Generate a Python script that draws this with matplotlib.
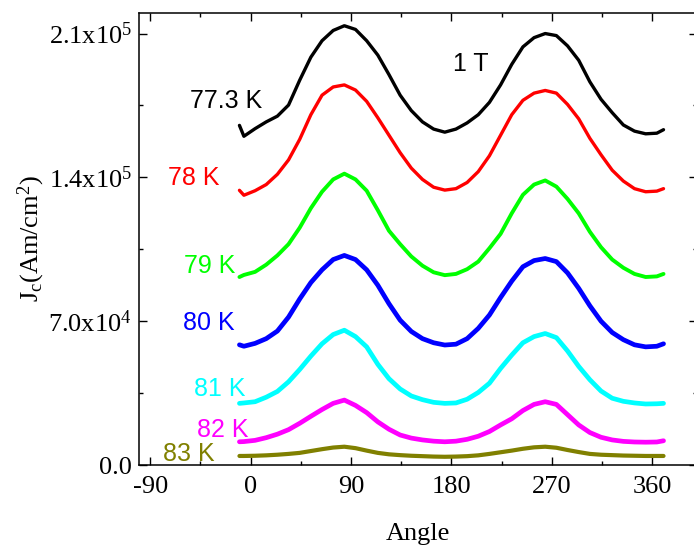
import matplotlib
matplotlib.use("Agg")
import matplotlib.pyplot as plt
from matplotlib.ticker import MultipleLocator, FuncFormatter

plt.rcParams['mathtext.fontset'] = 'custom'
plt.rcParams['mathtext.rm'] = 'Liberation Serif'
plt.rcParams['mathtext.it'] = 'Liberation Serif:italic'

angle = [-10, -6, 4, 14, 24, 34, 44, 54, 64, 74, 84, 94, 104, 114, 124, 134, 144, 154, 164, 174,
         184, 194, 204, 214, 224, 234, 244, 254, 264, 274, 284, 294, 304, 314, 324, 334, 344, 354, 364, 370]

# Jc values in units of 1e3 A/cm^2
jc_773 = [165.3, 160.0, 163.7, 167.0, 169.8, 175.2, 187.3, 198.5, 206.5, 211.5, 213.8, 212.0, 206.5, 199.5,
          190.0, 180.0, 172.5, 167.0, 163.5, 162.0, 163.5, 166.5, 170.5, 176.5, 185.0, 195.0, 203.5, 208.0,
          210.0, 209.0, 204.0, 197.0, 186.5, 178.0, 171.5, 165.5, 162.5, 161.2, 161.5, 163.2]
jc_78 = [133.7, 131.3, 133.5, 136.5, 141.5, 148.5, 158.5, 170.5, 180.0, 184.0, 185.0, 182.5, 177.0, 169.0,
         160.5, 152.0, 144.5, 139.0, 135.2, 133.8, 134.5, 137.5, 142.8, 150.5, 160.5, 170.5, 177.5, 181.0,
         182.3, 181.0, 175.5, 168.5, 159.0, 151.0, 143.5, 138.2, 134.5, 133.0, 133.3, 134.5]
jc_79 = [91.5, 92.5, 94.0, 97.5, 102.0, 107.5, 115.5, 125.0, 133.0, 139.0, 141.8, 139.0, 133.5, 124.0,
         114.0, 107.5, 101.5, 97.0, 93.8, 92.4, 93.0, 95.3, 99.0, 105.5, 112.5, 122.5, 131.5, 136.5,
         138.5, 135.5, 129.5, 122.5, 113.5, 106.0, 100.0, 96.0, 93.0, 91.5, 91.8, 93.0]
jc_80 = [58.5, 57.8, 59.2, 61.5, 65.2, 72.0, 80.8, 88.8, 95.0, 100.0, 102.0, 100.0, 95.0, 87.5,
         78.5, 70.5, 65.0, 61.5, 59.5, 58.4, 58.8, 61.5, 66.5, 73.0, 81.5, 89.5, 96.5, 99.5,
         100.5, 99.0, 93.5, 86.0, 77.5, 70.0, 64.5, 61.0, 58.5, 57.5, 57.8, 59.0]
jc_81 = [30.0, 30.2, 30.8, 33.0, 35.8, 40.5, 46.5, 53.0, 59.0, 63.5, 65.6, 62.5, 57.5, 49.0,
         42.0, 37.0, 33.6, 31.8, 30.5, 30.0, 30.2, 32.0, 35.3, 39.8, 47.0, 53.5, 59.5, 62.5,
         64.0, 62.0, 55.5, 48.0, 41.5, 36.0, 32.5, 31.0, 30.2, 29.7, 29.8, 30.0]
jc_82 = [11.3, 11.4, 12.0, 13.3, 15.0, 17.2, 20.3, 23.7, 27.0, 30.0, 31.6, 29.0, 25.5, 21.0,
         17.4, 14.6, 13.1, 12.2, 11.6, 11.3, 11.6, 12.5, 14.0, 16.3, 19.5, 22.5, 26.5, 29.5,
         30.8, 29.5, 24.5, 19.5, 15.8, 13.5, 12.2, 11.5, 11.2, 11.1, 11.2, 11.8]
jc_83 = [4.4, 4.4, 4.5, 4.7, 5.0, 5.4, 5.9, 6.8, 7.7, 8.5, 8.9, 8.2, 7.0, 5.9,
         5.2, 4.8, 4.5, 4.3, 4.1, 4.0, 4.1, 4.3, 4.7, 5.4, 6.2, 7.0, 7.9, 8.6,
         8.9, 8.4, 7.3, 6.3, 5.4, 5.0, 4.8, 4.6, 4.5, 4.4, 4.4, 4.4]

labels = ["77.3 K", "78 K", "79 K", "80 K", "81 K", "82 K", "83 K"]
series = [jc_773, jc_78, jc_79, jc_80, jc_81, jc_82, jc_83]
colors = ["#000000", "#ff0000", "#00ff00", "#0000ff", "#00ffff", "#ff00ff", "#808000"]
label_x = [10, -27.5, -14, -14, -5, -1.5, -32]
label_y = [177, 139.5, 97, 69, 37, 17, 5.3]
widths = [2.4, 2.4, 2.8, 3.4, 3.4, 3.4, 3.0]

W, H = 694, 547
fig = plt.figure(figsize=(W / 100, H / 100), dpi=100)
ax = fig.add_axes([139 / W, 1 - 465 / H, (697 - 139) / W, (465 - 13) / H])

for vals, c, lw in zip(series, colors, widths):
    ax.plot(angle, [v * 1e3 for v in vals], color=c, lw=lw, solid_capstyle='round',
            solid_joinstyle='round')

for lab, c, lx, ly in zip(labels, colors, label_x, label_y):
    ax.text(lx, ly * 1e3, lab, color=c, fontsize=18, family='Liberation Sans',
            ha='right', va='center')
ax.text(181, 195.4e3, "1 T", color='black', fontsize=18, family='Liberation Sans',
        ha='left', va='center')

ax.set_xlim(-100, 400)
ax.set_ylim(0, 2.2e5)
ax.xaxis.set_major_locator(MultipleLocator(90))
ax.xaxis.set_minor_locator(MultipleLocator(45))
ax.yaxis.set_major_locator(MultipleLocator(7e4))
ax.yaxis.set_minor_locator(MultipleLocator(3.5e4))


def yfmt(v, pos):
    if abs(v) < 1:
        return "0.0"
    e = 0
    m = v
    while m >= 10:
        m /= 10
        e += 1
    return "%.1fx10$^{\\mathrm{%d}}$" % (m, e)


ax.yaxis.set_major_formatter(FuncFormatter(yfmt))
ax.xaxis.set_major_formatter(FuncFormatter(lambda v, p: "%d" % v))

ax.tick_params(which='both', direction='in', top=True, right=True, width=1.0)
ax.tick_params(which='major', length=5.5, labelsize=19, pad=5)
ax.tick_params(axis='x', which='major', pad=8)
ax.tick_params(which='minor', length=3)
for lab in ax.get_xticklabels() + ax.get_yticklabels():
    lab.set_family('Liberation Serif')
for s in ax.spines.values():
    s.set_linewidth(1.1)

ax.set_xlabel("Angle", fontsize=19, family='Liberation Serif', labelpad=18)
ax.set_ylabel(r"J$_{\mathrm{c}}$(Am/cm$^{\mathrm{2}}$)", fontsize=19, family='Liberation Serif')
ax.yaxis.set_label_coords(-0.165, 0.5)

fig.savefig("out.png", dpi=100)
